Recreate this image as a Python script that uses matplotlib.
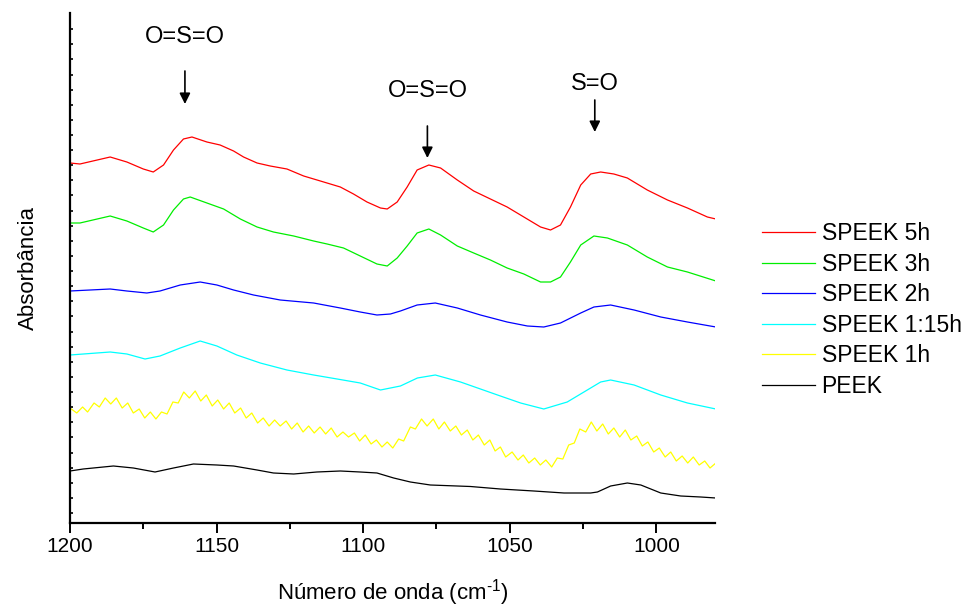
import numpy as np
import matplotlib
matplotlib.use("Agg")
import matplotlib.pyplot as plt

plt.rcParams['font.family'] = ['Liberation Sans', 'DejaVu Sans']
plt.rcParams['mathtext.fontset'] = 'custom'
plt.rcParams['mathtext.rm'] = 'Liberation Sans'
plt.rcParams['mathtext.default'] = 'regular'

# --- data (wavenumber in cm-1, absorbance in a.u.) ---
x_5h = [1200.0, 1196.6, 1186.3, 1180.6, 1175.0, 1171.6, 1168.1, 1164.7, 1161.3, 1158.4,
        1153.3, 1148.8, 1144.2, 1140.8, 1136.2, 1131.7, 1126.0, 1120.3, 1114.6, 1107.8,
        1103.3, 1098.7, 1094.1, 1091.8, 1088.4, 1085.0, 1081.6, 1077.6, 1073.6, 1067.9,
        1062.3, 1056.6, 1050.9, 1045.2, 1039.5, 1036.1, 1032.7, 1029.3, 1025.8, 1022.4,
        1019.0, 1014.5, 1009.9, 1003.1, 996.2, 989.4, 982.6, 979.7]
y_5h = [3.60, 3.59, 3.66, 3.61, 3.54, 3.51, 3.58, 3.73, 3.84, 3.86,
        3.81, 3.78, 3.72, 3.66, 3.60, 3.57, 3.54, 3.47, 3.42, 3.36,
        3.29, 3.21, 3.15, 3.14, 3.21, 3.36, 3.53, 3.58, 3.55, 3.43,
        3.32, 3.24, 3.16, 3.06, 2.96, 2.93, 2.98, 3.16, 3.38, 3.49,
        3.51, 3.49, 3.45, 3.33, 3.23, 3.15, 3.06, 3.04]

x_3h = [1200.0, 1196.6, 1186.3, 1180.6, 1175.0, 1171.6, 1168.1, 1164.7, 1161.3, 1159.0,
        1153.3, 1147.6, 1141.9, 1136.2, 1130.6, 1123.7, 1116.9, 1112.3, 1106.7, 1101.0,
        1095.3, 1091.8, 1088.4, 1085.0, 1081.6, 1077.6, 1073.6, 1067.9, 1062.3, 1056.6,
        1050.9, 1045.2, 1039.5, 1036.1, 1032.7, 1029.3, 1025.8, 1021.3, 1016.7, 1009.9,
        1003.1, 996.2, 989.4, 979.7]
y_3h = [3.00, 3.00, 3.07, 3.02, 2.95, 2.91, 2.98, 3.13, 3.24, 3.26,
        3.20, 3.14, 3.04, 2.96, 2.91, 2.87, 2.82, 2.79, 2.75, 2.67,
        2.59, 2.57, 2.65, 2.77, 2.90, 2.94, 2.88, 2.77, 2.70, 2.63,
        2.55, 2.49, 2.41, 2.41, 2.46, 2.61, 2.78, 2.87, 2.85, 2.78,
        2.66, 2.56, 2.51, 2.42]

x_2h = [1200.0, 1186.3, 1180.6, 1173.8, 1169.3, 1162.4, 1155.6, 1149.9, 1144.2, 1137.4,
        1128.3, 1116.9, 1107.8, 1101.0, 1095.3, 1090.7, 1087.3, 1081.6, 1075.4, 1067.9,
        1060.0, 1050.9, 1044.0, 1038.4, 1032.7, 1025.8, 1021.3, 1015.6, 1007.6, 998.5,
        989.4, 979.7]
y_2h = [2.32, 2.34, 2.32, 2.30, 2.32, 2.38, 2.41, 2.38, 2.33, 2.28,
        2.23, 2.20, 2.15, 2.11, 2.08, 2.09, 2.12, 2.18, 2.20, 2.15,
        2.08, 2.01, 1.97, 1.96, 2.00, 2.10, 2.16, 2.18, 2.13, 2.06,
        2.01, 1.96]

x_115h = [1200.0, 1186.3, 1180.6, 1174.4, 1169.3, 1162.4, 1155.6, 1149.9, 1143.1, 1135.1,
          1126.0, 1116.9, 1108.9, 1101.0, 1094.1, 1087.3, 1081.5, 1075.4, 1066.8, 1060.0,
          1053.2, 1046.3, 1038.4, 1030.4, 1024.7, 1019.0, 1015.6, 1007.6, 998.5, 989.4,
          979.7]
y_115h = [1.68, 1.71, 1.69, 1.64, 1.67, 1.75, 1.82, 1.77, 1.68, 1.60,
          1.53, 1.48, 1.44, 1.40, 1.33, 1.37, 1.45, 1.48, 1.41, 1.34,
          1.27, 1.20, 1.14, 1.21, 1.31, 1.41, 1.43, 1.38, 1.28, 1.20,
          1.14]

x_1h = [1200.0, 1197.7, 1195.7, 1194.0, 1191.8, 1190.0, 1188.0, 1186.1, 1184.2, 1182.2,
        1180.3, 1178.4, 1176.4, 1174.5, 1172.6, 1170.7, 1168.8, 1166.9, 1164.9, 1163.1,
        1161.2, 1159.3, 1157.3, 1155.4, 1153.5, 1151.5, 1149.6, 1147.6, 1145.7, 1143.8,
        1141.8, 1139.9, 1138.0, 1136.0, 1134.1, 1132.1, 1130.2, 1128.3, 1126.3, 1124.4,
        1122.5, 1120.5, 1118.6, 1116.7, 1114.7, 1112.8, 1110.9, 1108.9, 1106.9, 1105.0,
        1103.0, 1101.2, 1099.3, 1097.3, 1095.5, 1093.6, 1091.8, 1089.9, 1087.9, 1086.2,
        1083.9, 1082.2, 1080.1, 1078.2, 1076.1, 1074.2, 1072.3, 1070.3, 1068.4, 1066.5,
        1064.5, 1062.6, 1060.7, 1058.7, 1056.8, 1055.0, 1053.2, 1051.4, 1049.2, 1047.2,
        1045.4, 1043.5, 1041.5, 1039.6, 1037.7, 1035.7, 1033.8, 1031.9, 1029.9, 1028.0,
        1026.1, 1024.1, 1022.2, 1020.3, 1018.3, 1016.4, 1014.5, 1012.5, 1010.6, 1008.7,
        1006.7, 1004.8, 1002.9, 1000.9, 999.0, 997.0, 995.1, 993.2, 991.2, 989.3,
        987.4, 985.4, 983.5, 981.7, 979.7]
y_1h = [1.15, 1.10, 1.16, 1.11, 1.20, 1.16, 1.25, 1.19, 1.25, 1.15,
        1.20, 1.10, 1.14, 1.05, 1.11, 1.04, 1.11, 1.09, 1.21, 1.20,
        1.31, 1.25, 1.32, 1.22, 1.28, 1.17, 1.23, 1.14, 1.20, 1.10,
        1.15, 1.05, 1.10, 1.00, 1.05, 0.97, 1.03, 0.97, 1.02, 0.94,
        1.00, 0.91, 0.97, 0.90, 0.96, 0.89, 0.95, 0.86, 0.91, 0.86,
        0.90, 0.82, 0.88, 0.79, 0.83, 0.76, 0.81, 0.75, 0.84, 0.82,
        0.96, 0.94, 1.04, 0.97, 1.04, 0.94, 1.01, 0.92, 0.97, 0.88,
        0.93, 0.83, 0.88, 0.78, 0.83, 0.72, 0.76, 0.66, 0.71, 0.63,
        0.68, 0.60, 0.65, 0.58, 0.63, 0.56, 0.65, 0.64, 0.78, 0.80,
        0.94, 0.91, 1.01, 0.92, 0.99, 0.89, 0.95, 0.86, 0.93, 0.83,
        0.87, 0.77, 0.81, 0.71, 0.75, 0.66, 0.71, 0.62, 0.67, 0.60,
        0.66, 0.58, 0.62, 0.55, 0.60]

x_peek = [1200.0, 1195.5, 1185.2, 1178.4, 1171.0, 1164.7, 1157.9, 1149.9, 1144.2, 1136.2,
          1130.6, 1123.7, 1115.8, 1107.8, 1101.0, 1095.3, 1089.6, 1083.9, 1077.1, 1063.4,
          1053.2, 1041.8, 1031.5, 1022.4, 1020.1, 1015.6, 1009.9, 1005.3, 998.5, 991.7,
          984.9, 979.7]
y_peek = [0.52, 0.54, 0.57, 0.55, 0.51, 0.55, 0.59, 0.58, 0.57, 0.53,
          0.50, 0.49, 0.51, 0.52, 0.51, 0.50, 0.45, 0.41, 0.38, 0.365,
          0.34, 0.32, 0.30, 0.30, 0.31, 0.37, 0.40, 0.38, 0.30, 0.27,
          0.26, 0.25]

series = [
    ('SPEEK 5h', x_5h, y_5h, '#ff0000'),
    ('SPEEK 3h', x_3h, y_3h, '#00ee00'),
    ('SPEEK 2h', x_2h, y_2h, '#0000ff'),
    ('SPEEK 1:15h', x_115h, y_115h, '#00ffff'),
    ('SPEEK 1h', x_1h, y_1h, '#ffff00'),
    ('PEEK', x_peek, y_peek, '#000000'),
]

# band labels: (text, x of arrow, text baseline y, arrow tail y, arrow tip y)
bands = [
    ('O=S=O', 1160.8, 4.80, 4.52, 4.19),
    ('O=S=O', 1078.1, 4.26, 3.97, 3.65),
    ('S=O', 1021.0, 4.33, 4.23, 3.91),
]

fig = plt.figure(figsize=(9.72, 6.10), dpi=100)
ax = fig.add_axes([70 / 972, 87 / 610, 645 / 972, 510 / 610])

for label, xs, ys, color in series:
    ax.plot(xs, ys, color=color, lw=0.9, label=label)

for text, bx, ty, y0, y1 in bands:
    ax.text(bx, ty, text, ha='center', va='baseline', fontsize=17)
    ax.annotate('', xy=(bx, y1), xytext=(bx, y0),
                arrowprops=dict(arrowstyle='-|>', color='black', lw=1.2,
                                mutation_scale=16, shrinkA=0, shrinkB=0))

ax.set_xlim(1200, 980)
ax.set_ylim(0, 5.10)
ax.set_xticks([1200, 1150, 1100, 1050, 1000])
ax.set_xticks([1175, 1125, 1075, 1025], minor=True)
ax.set_yticks(np.arange(0.10, 5.0, 0.1512))
ax.set_yticklabels([])

for side in ['top', 'right']:
    ax.spines[side].set_visible(False)
for side in ['left', 'bottom']:
    ax.spines[side].set_linewidth(1.6)

ax.tick_params(axis='x', which='major', direction='out', length=7, width=1.4,
               labelsize=15, pad=3)
ax.tick_params(axis='x', which='minor', direction='out', length=4, width=1.4)
ax.tick_params(axis='y', which='major', direction='in', length=2, width=1.2)

ax.set_xlabel('Número de onda (cm$^{\\text{-1}}$)', fontsize=16, labelpad=15)
ax.set_ylabel('Absorbância', fontsize=16, labelpad=19)

fig.legend(loc='center left', bbox_to_anchor=(762 / 972, 1 - 310 / 610),
           bbox_transform=fig.transFigure, frameon=False, fontsize=16.5,
           handlelength=2.3, handletextpad=0.3, labelspacing=0.33,
           borderpad=0, borderaxespad=0)

fig.savefig('out.png', dpi=100)
